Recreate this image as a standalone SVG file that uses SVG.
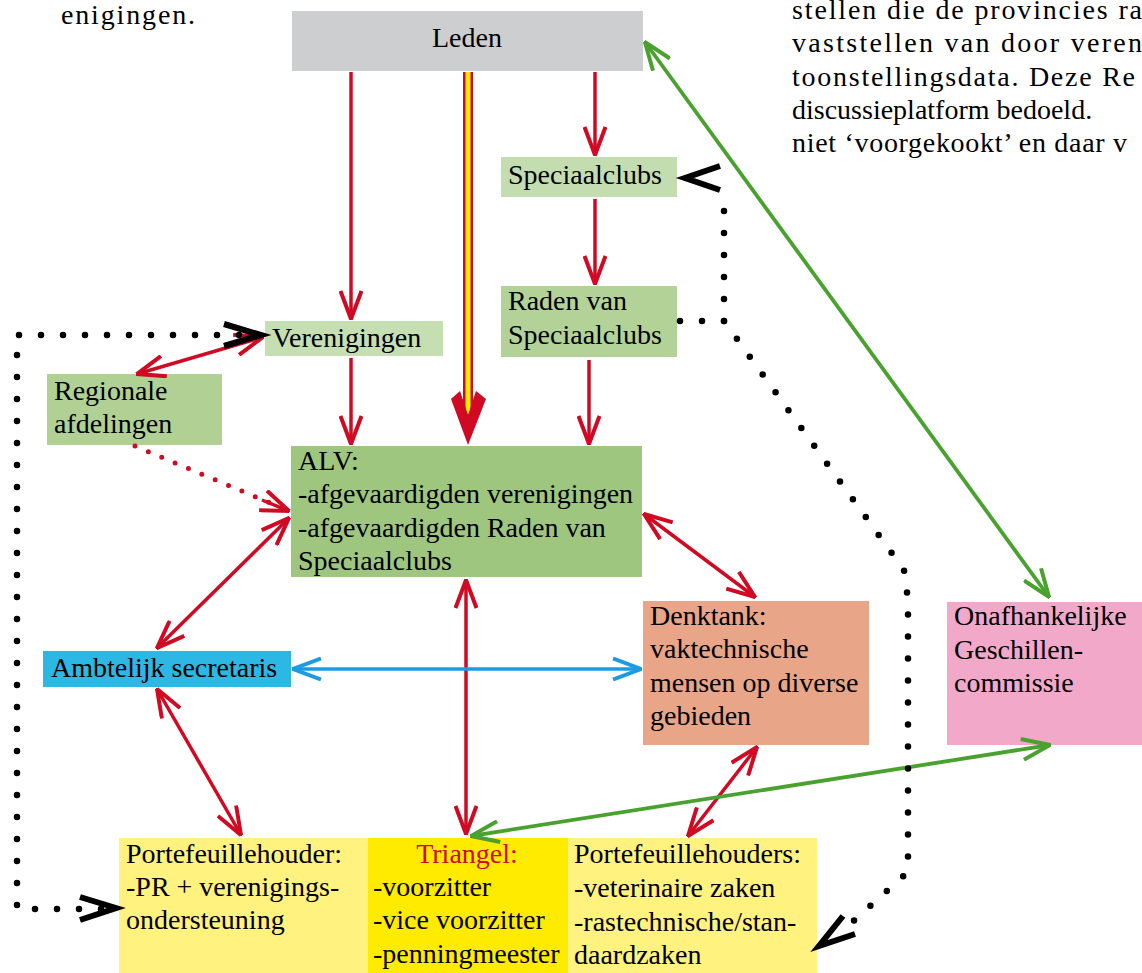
<svg xmlns="http://www.w3.org/2000/svg" width="1142" height="973" viewBox="0 0 1142 973">
<style>
text{font-family:"Liberation Serif","DejaVu Serif",serif;font-size:28px;fill:#000}
.p{font-size:28px}
.tr{fill:#cf0a22}
.r{stroke:#cf0a22;stroke-width:3.5;fill:none}
.g{stroke:#4aa22e;stroke-width:3.8;fill:none}
.b{stroke:#1c9be0;stroke-width:3.5;fill:none}
.dot{stroke:#000;stroke-width:6.5;stroke-linecap:round;stroke-dasharray:0 22;fill:none}
.rdot{stroke:#cf0a22;stroke-width:5;stroke-linecap:round;stroke-dasharray:0 14.5;fill:none}
.bh{stroke:#000;stroke-width:6;fill:none;stroke-linejoin:miter}
</style>
<defs>
<marker id="ar" viewBox="0 0 30 24" refX="29" refY="12" markerWidth="30" markerHeight="24" markerUnits="userSpaceOnUse" orient="auto-start-reverse"><path d="M1,1.5 L29,12 L1,22.5" fill="none" stroke="#cf0a22" stroke-width="4"/></marker>
<marker id="ag" viewBox="0 0 30 24" refX="29" refY="12" markerWidth="30" markerHeight="24" markerUnits="userSpaceOnUse" orient="auto-start-reverse"><path d="M1,1.5 L29,12 L1,22.5" fill="none" stroke="#4aa22e" stroke-width="4"/></marker>
<marker id="ab" viewBox="0 0 30 24" refX="29" refY="12" markerWidth="30" markerHeight="24" markerUnits="userSpaceOnUse" orient="auto-start-reverse"><path d="M1,1.5 L29,12 L1,22.5" fill="none" stroke="#1c9be0" stroke-width="4"/></marker>
</defs>

<g id="page-text">
<text x="61" y="24" class="p" textLength="134" lengthAdjust="spacing">enigingen.</text>
<text x="792" y="19" class="p" textLength="350" lengthAdjust="spacing">stellen die de provincies ra</text>
<text x="792" y="52" class="p" textLength="350" lengthAdjust="spacing">vaststellen van door veren</text>
<text x="792" y="86" class="p" textLength="343" lengthAdjust="spacing">toonstellingsdata. Deze Re</text>
<text x="792" y="119" class="p">discussieplatform bedoeld.</text>
<text x="792" y="152" class="p" textLength="335" lengthAdjust="spacing">niet ‘voorgekookt’ en daar v</text>
</g>

<g id="leden"><rect x="292" y="11" width="351" height="60" fill="#cdced0"/><text x="467" y="47" text-anchor="middle">Leden</text></g>
<g id="speciaalclubs"><rect x="501" y="157" width="176" height="40" fill="#c4ddb0"/><text x="508" y="184">Speciaalclubs</text></g>
<g id="raden"><rect x="501" y="286" width="176" height="71" fill="#b2d297"/><text x="508" y="310">Raden van</text><text x="508" y="344">Speciaalclubs</text></g>
<g id="verenigingen"><rect x="265" y="321" width="178" height="35" fill="#c5deb2"/><text x="272" y="347">Verenigingen</text></g>
<g id="regionale"><rect x="47" y="374" width="175" height="71" fill="#b0d094"/><text x="54" y="400">Regionale</text><text x="54" y="433">afdelingen</text></g>
<g id="alv"><rect x="291" y="446" width="351" height="131" fill="#9fc67e"/><text x="298" y="470">ALV:</text><text x="298" y="503">-afgevaardigden verenigingen</text><text x="298" y="537">-afgevaardigden Raden van</text><text x="298" y="570">Speciaalclubs</text></g>
<g id="ambtelijk"><rect x="43" y="651" width="248" height="36" fill="#2db7e4"/><text x="51" y="677">Ambtelijk secretaris</text></g>
<g id="denktank"><rect x="643" y="601" width="226" height="144" fill="#e8a587"/><text x="650" y="625">Denktank:</text><text x="650" y="658">vaktechnische</text><text x="650" y="692">mensen op diverse</text><text x="650" y="725">gebieden</text></g>
<g id="geschillen"><rect x="947" y="602" width="200" height="143" fill="#f2a9c9"/><text x="954" y="625">Onafhankelijke</text><text x="954" y="659">Geschillen-</text><text x="954" y="692">commissie</text></g>
<g id="pf1"><rect x="119" y="838" width="250" height="135" fill="#fff27f"/><text x="126" y="863">Portefeuillehouder:</text><text x="126" y="896">-PR + verenigings-</text><text x="126" y="929">ondersteuning</text></g>
<g id="triangel"><rect x="368" y="838" width="200" height="135" fill="#ffeb00"/><text x="467" y="863" text-anchor="middle" class="tr">Triangel:</text><text x="373" y="896">-voorzitter</text><text x="373" y="929">-vice voorzitter</text><text x="373" y="963">-penningmeester</text></g>
<g id="pf2"><rect x="568" y="838" width="249" height="135" fill="#fff27f"/><text x="574" y="863">Portefeuillehouders:</text><text x="574" y="897">-veterinaire zaken</text><text x="574" y="931">-rastechnische/stan-</text><text x="574" y="964">daardzaken</text></g>

<g id="connectors">
<path class="r" d="M351,72 L351,319" marker-end="url(#ar)"/>
<path class="r" d="M595,72 L595,155" marker-end="url(#ar)"/>
<path class="r" d="M595,199 L595,284" marker-end="url(#ar)"/>
<path class="r" d="M351,358 L351,444" marker-end="url(#ar)"/>
<path class="r" d="M589,360 L589,444" marker-end="url(#ar)"/>
<path d="M468,72 L468,418" stroke="#cf0a22" stroke-width="10" fill="none"/>
<path d="M468,72 L468,414" stroke="#ffeb00" stroke-width="5" fill="none"/>
<polygon points="451,399 460,391 468,415 476,391 486,399 468,445" fill="#cf0a22"/>
<path class="r" d="M263,337 L137,374" marker-start="url(#ar)" marker-end="url(#ar)"/>
<path class="rdot" d="M135,446 L282,508"/>
<path class="r" d="M262,500 L289,511" marker-end="url(#ar)" stroke="none"/>
<path class="r" d="M289,518 L157,648" marker-start="url(#ar)" marker-end="url(#ar)"/>
<path class="r" d="M644,514 L755,597" marker-start="url(#ar)" marker-end="url(#ar)"/>
<path class="r" d="M466,580 L466,834" marker-start="url(#ar)" marker-end="url(#ar)"/>
<path class="b" d="M293,669 L641,669" marker-start="url(#ab)" marker-end="url(#ab)"/>
<path class="r" d="M157,689 L241,835" marker-start="url(#ar)" marker-end="url(#ar)"/>
<path class="r" d="M757,747 L688,836" marker-start="url(#ar)" marker-end="url(#ar)"/>
<path class="g" d="M645,42 L1049,597" marker-start="url(#ag)" marker-end="url(#ag)"/>
<path class="g" d="M1050,745 L471,836" marker-start="url(#ag)" marker-end="url(#ag)"/>
<path class="dot" d="M239,335 L17,335 L17,909 L107,909"/>
<path class="bh" d="M224,324 L261,335 L224,346"/>
<path class="bh" d="M80,897 L116,908 L80,920"/>
<path class="dot" d="M680,321 L724,321 L724,189"/>
<path class="bh" d="M720,166 L685,178 L720,190"/>
<path class="dot" d="M724,321 L904,570 L908,600 L908,872 L840,933"/>
<path class="bh" d="M843,916 L819,946 L855,934"/>
</g>
</svg>
